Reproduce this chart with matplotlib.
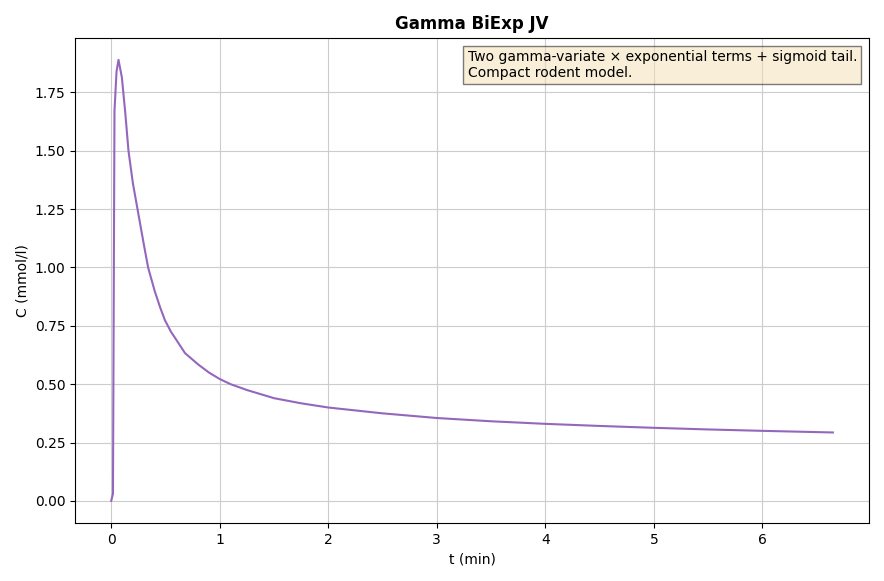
import matplotlib
matplotlib.use("Agg")
import matplotlib.pyplot as plt

t = [0, 0.016, 0.03, 0.049, 0.067, 0.098, 0.13, 0.159, 0.2, 0.25, 0.3, 0.34, 0.4, 0.45, 0.495, 0.55, 0.6, 0.68, 0.8, 0.9, 1.0, 1.1, 1.25, 1.5, 1.75, 2.0, 2.5, 3.0, 3.5, 4.0, 4.5, 5.0, 5.5, 6.0, 6.65]
c = [0, 0.03, 1.67, 1.84, 1.89, 1.815, 1.66, 1.50, 1.36, 1.23, 1.10, 1.0, 0.90, 0.83, 0.774, 0.725, 0.69, 0.633, 0.585, 0.55, 0.522, 0.50, 0.475, 0.44, 0.418, 0.40, 0.375, 0.355, 0.341, 0.33, 0.321, 0.313, 0.306, 0.30, 0.293]

fig, ax = plt.subplots(figsize=(8.84, 5.81), dpi=100)
ax.plot(t, c, color="tab:purple", lw=1.5)
ax.set_title("Gamma BiExp JV", fontweight="bold")
ax.set_xlabel("t (min)")
ax.set_ylabel("C (mmol/l)")
ax.grid(True, color="#cccccc")
ax.text(0.985, 0.975, "Two gamma-variate × exponential terms + sigmoid tail.\nCompact rodent model.",
        transform=ax.transAxes, ha="right", va="top", multialignment="left", fontsize=10,
        bbox=dict(boxstyle="square", facecolor="wheat", alpha=0.5))
fig.subplots_adjust(left=0.085, right=0.983, top=0.935, bottom=0.1)
fig.savefig("out.png")
